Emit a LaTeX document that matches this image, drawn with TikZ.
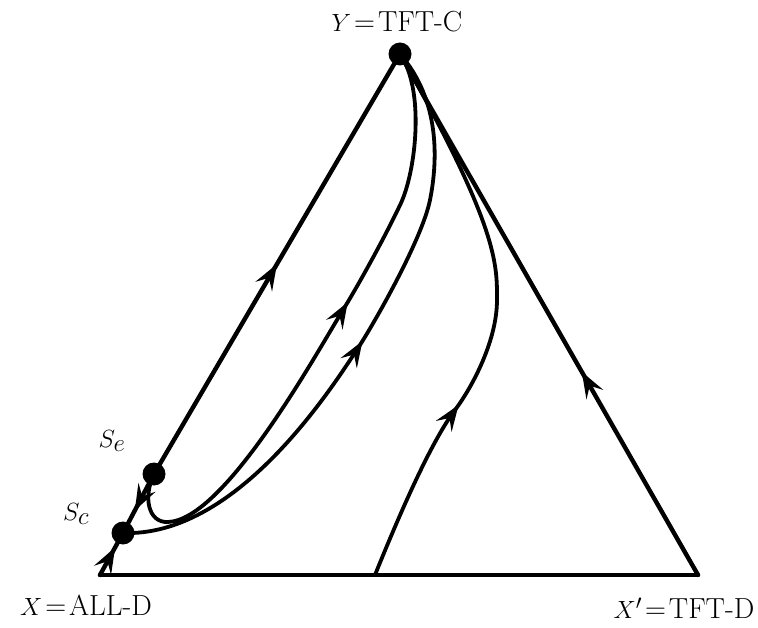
\documentclass[tikz,border=0pt]{standalone}
\usetikzlibrary{arrows.meta,decorations.markings}
\begin{document}
\begin{tikzpicture}[x=1pt,y=-1pt,
  edge/.style={line width=4.4pt, line cap=round, line join=round},
  flow/.style={line width=3.8pt, line cap=round, line join=round},
  dot/.style={circle, fill=black, inner sep=0pt, minimum size=23pt},
  flowtip/.tip={Stealth[length=26pt,width=19pt,inset=10pt]},
  arrowat/.style={postaction={decorate}, decoration={markings, mark=at position #1 with {\arrow{flowtip}}}},
  lab/.style={font=\fontsize{29}{34}\selectfont, inner sep=0pt},
  slab/.style={font=\fontsize{34}{36}\selectfont, inner sep=0pt}]
\useasboundingbox (0,0) rectangle (758,628);
% vertices and rest points
\coordinate (X) at (100,575);
\coordinate (Xp) at (698,575);
\coordinate (B3) at (375,575);
\node[dot] (Y) at (400,54) {};
\node[dot] (Se) at (154,474) {};
\node[dot] (Sc) at (123,533) {};
% edges of the simplex
\draw[edge] (X) -- (Xp);
\draw[edge, arrowat=0.39] (Xp) -- (Y.center);
\draw[edge, arrowat=0.5] (Se.center) -- (Y.center);
\draw[edge, arrowat=0.62] (Se.center) -- (Sc.center);
\draw[edge, arrowat=0.66] (X) -- (Sc.center);
% interior trajectories
\draw[flow, arrowat=350pt] (Se.center)
   .. controls (143,497) and (148,523) .. (168,522)
   .. controls (225,520) and (317,352) .. (343,310)
   .. controls (359,284) and (386,235) .. (401,203)
   .. controls (416,170) and (425,90) .. (Y.center);
\draw[flow, arrowat=320pt] (Sc.center)
   .. controls (235,537) and (328,394) .. (358,348)
   .. controls (372,327) and (422,240) .. (430,200)
   .. controls (438,160) and (440,100) .. (Y.center);
\draw[flow, arrowat=190pt] (B3)
   .. controls (400,513) and (431,442) .. (455,410)
   .. controls (473,386) and (497,340) .. (497,300)
   .. controls (497,265) and (499,228) .. (Y.center);
% labels
\node[lab] (tY) at (397,22) {$Y$\kern3pt=\kern3pt TFT-C};
\node[lab] (tX) at (86,605) {$X$\kern3pt=\kern3pt ALL-D};
\node[lab] (tXp) at (684,608) {$X'$\kern3pt=\kern3pt TFT-D};
\node[slab] (tSe) at (112,441) {$S_e$};
\node[slab] (tSc) at (76,514) {$S_c$};
\end{tikzpicture}
\end{document}
